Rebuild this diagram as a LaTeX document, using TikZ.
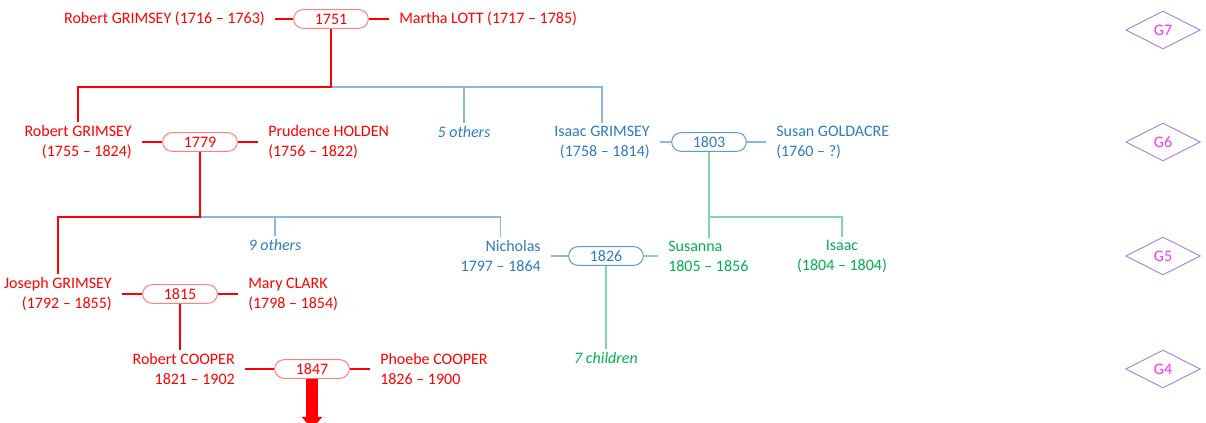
\documentclass[tikz,border=0pt]{standalone}
\usepackage{fontspec}
\setmainfont{Carlito}
\usetikzlibrary{arrows.meta,shapes.geometric}
\definecolor{famred}{HTML}{FF0000}
\definecolor{softred}{HTML}{FF8080}
\definecolor{famblue}{HTML}{2E7BC4}
\definecolor{wedblue}{HTML}{5B9BD5}
\definecolor{softblue}{HTML}{8CB8E0}
\definecolor{famgreen}{HTML}{00B050}
\definecolor{softgreen}{HTML}{80D8A8}
\definecolor{genline}{HTML}{A98AD8}
\definecolor{genpink}{HTML}{FF33FF}

\begin{document}
\begin{tikzpicture}[x=0.75pt,y=-0.75pt,
  txt/.style={font=\fontsize{12}{15}\selectfont,inner xsep=7.5pt,inner ysep=2pt},
  oth/.style={txt,font=\fontsize{12}{15}\selectfont\itshape},
  lp/.style={txt,anchor=east,align=right},
  rp/.style={txt,anchor=west,align=left},
  wed/.style={txt,inner sep=0pt,draw,fill=white,line width=.75pt,rounded corners=7pt,minimum width=56pt,minimum height=14pt},
  redwed/.style={wed,draw=softred,text=famred},
  bluewed/.style={wed,draw=wedblue,text=famblue},
  gen/.style={diamond,draw=genline,text=genpink,line width=.75pt,minimum width=56pt,minimum height=28.5pt,inner sep=0pt,font=\fontsize{12}{13}\selectfont},
  spouse/.style={famred,line width=1.9pt},
  redline/.style={famred,line width=1.5pt},
  blueline/.style={softblue,line width=.9pt},
  greenline/.style={softgreen,line width=.9pt}]
\path[use as bounding box,clip] (0,0) rectangle (1206,423);
% G7
\node[lp,text=famred] (rg1) at (275,19) {Robert GRIMSEY (1716 – 1763)};
\node[redwed] (m1751) at (331,19) {1751};
\node[rp,text=famred] (ml) at (389,19) {Martha LOTT (1717 – 1785)};
% G6
\node[lp,text=famred] (rg2) at (142,142) {Robert GRIMSEY\\(1755 – 1824)};
\node[redwed] (m1779) at (200,142) {1779};
\node[rp,text=famred] (ph) at (258,142) {Prudence HOLDEN\\(1756 – 1822)};
\node[oth,text=famblue] (o5) at (464,132) {5 others};
\node[lp,text=famblue] (ig) at (660,142) {Isaac GRIMSEY\\(1758 – 1814)};
\node[bluewed] (m1803) at (709,142) {1803};
\node[rp,text=famblue] (sg) at (766,142) {Susan GOLDACRE\\(1760 – ?)};
% G5
\node[oth,text=famblue] (o9) at (275,245) {9 others};
\node[lp,text=famblue] (nic) at (551,256) {Nicholas\\1797 – 1864};
\node[bluewed] (m1826) at (606,256) {1826};
\node[rp,text=famgreen] (sus) at (658,256) {Susanna\\1805 – 1856};
\node[txt,align=center,text=famgreen] (isc) at (842,256) {Isaac\\(1804 – 1804)};
\node[lp,text=famred] (jg) at (122,294) {Joseph GRIMSEY\\(1792 – 1855)};
\node[redwed] (m1815) at (180,294) {1815};
\node[rp,text=famred] (mc) at (238,294) {Mary CLARK\\(1798 – 1854)};
% G4
\node[lp,text=famred] (rc) at (245,369) {Robert COOPER\\1821 – 1902};
\node[redwed] (m1847) at (312,369) {1847};
\node[rp,text=famred] (pc) at (370,369) {Phoebe COOPER\\1826 – 1900};
\node[oth,text=famgreen] (c7) at (606,358) {7 children};
\foreach \g/\y in {7/30,6/142,5/256,4/369}
  \node[gen] (g\g) at (1163,\y) {G\g};
% couples
\draw[spouse] (rg1.east) -- (m1751.west) (m1751.east) -- (ml.west);
\draw[spouse] (rg2.east) -- (m1779.west) (m1779.east) -- (ph.west);
\draw[blueline] (ig.east) -- (m1803.west) (m1803.east) -- (sg.west);
\draw[blueline] (nic.east) -- (m1826.west);
\draw[greenline] (m1826.east) -- (sus.west);
\draw[spouse] (jg.east) -- (m1815.west) (m1815.east) -- (mc.west);
\draw[spouse] (rc.east) -- (m1847.west) (m1847.east) -- (pc.west);
% descent
\coordinate (b1) at (0,87);
\coordinate (b2) at (0,217);
\draw[blueline] (m1751.south |- b1) -| (ig.north) (o5.north) -- (o5.north |- b1);
\draw[redline] (m1751.south) -- (m1751.south |- b1) -| (rg2.north);
\draw[blueline] (m1779.south |- b2) -| (nic.north) (o9.north) -- (o9.north |- b2);
\draw[redline] (m1779.south) -- (m1779.south |- b2) -| (jg.north);
\draw[greenline] (m1803.south) -- (m1803.south |- sus.north) (m1803.south |- b2) -| (isc.north);
\draw[redline] (m1815.south) -- (m1815.south |- rc.north);
\draw[greenline] (m1826.south) -- (c7.north);
\draw[famred,line width=9pt,-{Triangle[width=15pt,length=9pt]}] (m1847.south) -- ++(0,50);
\end{tikzpicture}
\end{document}
